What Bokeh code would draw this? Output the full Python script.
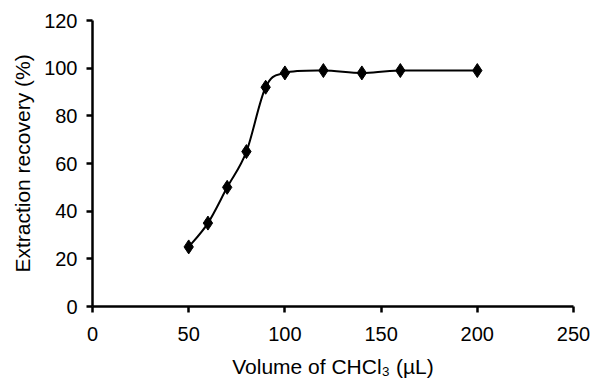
from bokeh.plotting import figure
from bokeh.models import Range1d, FixedTicker
from bokeh.embed import file_html
from bokeh.resources import INLINE

# Data
volume_ul = [50, 60, 70, 80, 90, 100, 120, 140, 160, 200]
recovery_pct = [25, 35, 50, 65, 92, 98, 99, 98, 99, 99]
x_ticks = [0, 50, 100, 150, 200, 250]
y_ticks = [0, 20, 40, 60, 80, 100, 120]
x_title = "Volume of CHCl\u2083 (µL)"
y_title = "Extraction recovery (%)"

FONT = "Liberation Sans"

p = figure(width=592, height=383, output_backend="svg", toolbar_location=None,
           x_range=Range1d(0, 250), y_range=Range1d(0, 120),
           min_border_left=92, min_border_right=19, min_border_top=20, min_border_bottom=77)
p.outline_line_color = None
p.grid.visible = False
p.background_fill_color = "white"
p.border_fill_color = "white"

# Smooth line (Excel-like smoothing) from Bezier segments built on the data points
n = len(volume_ul)
t = 1.0 / 6.0
x0, y0, x1, y1, cx0, cy0, cx1, cy1 = [], [], [], [], [], [], [], []
for i in range(n - 1):
    pm = max(i - 1, 0)
    pp = min(i + 2, n - 1)
    xa, ya = volume_ul[i], recovery_pct[i]
    xb, yb = volume_ul[i + 1], recovery_pct[i + 1]
    x0.append(xa); y0.append(ya); x1.append(xb); y1.append(yb)
    cx0.append(xa + (xb - volume_ul[pm]) * t)
    cy0.append(ya + (yb - recovery_pct[pm]) * t)
    cx1.append(xb - (volume_ul[pp] - xa) * t)
    cy1.append(yb - (recovery_pct[pp] - ya) * t)
p.bezier(x0=x0, y0=y0, x1=x1, y1=y1, cx0=cx0, cy0=cy0, cx1=cx1, cy1=cy1,
         line_color="black", line_width=2)

p.scatter(volume_ul, recovery_pct, marker="diamond", size=14,
          fill_color="black", line_color="black")

for ax in (p.xaxis[0], p.yaxis[0]):
    ax.axis_line_color = "black"
    ax.axis_line_width = 2.5
    ax.major_tick_line_color = "black"
    ax.major_tick_line_width = 2.5
    ax.major_tick_out = 6
    ax.major_tick_in = 0
    ax.minor_tick_line_color = None
    ax.major_label_text_font = FONT
    ax.major_label_text_font_size = "20px"
    ax.major_label_text_color = "black"
    ax.axis_label_text_font = FONT
    ax.axis_label_text_font_size = "21px"
    ax.axis_label_text_font_style = "normal"
    ax.axis_label_text_color = "black"

p.xaxis[0].ticker = FixedTicker(ticks=x_ticks)
p.yaxis[0].ticker = FixedTicker(ticks=y_ticks)
p.xaxis[0].major_label_standoff = 14
p.yaxis[0].major_label_standoff = 9

p.yaxis[0].axis_label = y_title
p.yaxis[0].axis_label_standoff = 7
p.xaxis[0].axis_label = x_title
p.xaxis[0].axis_label_standoff = 11

open("out.html", "w").write(file_html(p, INLINE))
